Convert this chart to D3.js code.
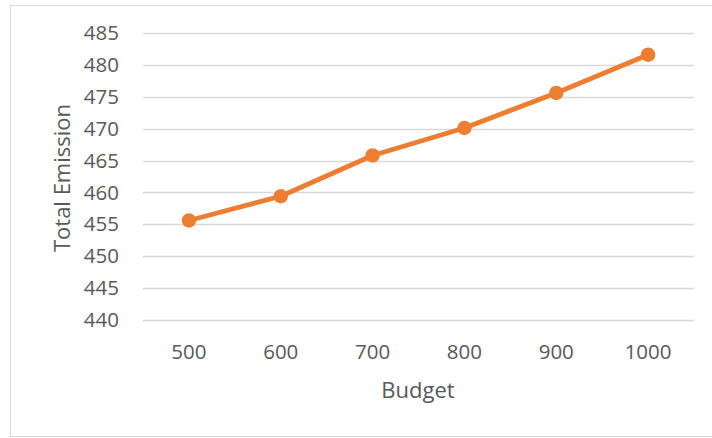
<!DOCTYPE html>
<html>
<head>
<meta charset="utf-8">
<script src="https://cdn.jsdelivr.net/npm/d3@7"></script>
<style>
  html, body { margin: 0; padding: 0; background: #fff; }
  svg { display: block; }
</style>
</head>
<body>
<svg id="chart" width="712" height="438"></svg>
<script>
// Budget levels and the resulting total emission
const budgets = ["500", "600", "700", "800", "900", "1000"];
const emissions = [455.6, 459.4, 465.8, 470.1, 475.6, 481.6];
const yTicks = [440, 445, 450, 455, 460, 465, 470, 475, 480, 485];
const xTitle = "Budget";
const yTitle = "Total Emission";

const svg = d3.select("#chart");
const textColor = "#595959";
const lineColor = "#ED7D31";
const font = "'Open Sans', sans-serif";

// chart frame
svg.append("rect")
  .attr("x", 10.5).attr("y", 5.5)
  .attr("width", 710).attr("height", 431)
  .attr("fill", "#fff").attr("stroke", "#d9d9d9").attr("stroke-width", 1);

const plot = { left: 143, right: 694, top: 33, bottom: 320 };

const x = d3.scaleBand().domain(budgets).range([plot.left, plot.right]);
const y = d3.scaleLinear().domain([440, 485]).range([plot.bottom, plot.top]);

// horizontal gridlines
svg.append("g")
  .selectAll("line")
  .data(yTicks)
  .join("line")
  .attr("x1", plot.left).attr("x2", plot.right)
  .attr("y1", d => Math.round(y(d)) + 0.5).attr("y2", d => Math.round(y(d)) + 0.5)
  .attr("stroke", "#d9d9d9").attr("stroke-width", 1.3);

// y axis labels
const yAxis = svg.append("g")
  .attr("transform", `translate(119,0)`)
  .call(d3.axisLeft(y).tickValues(yTicks).tickSize(0).tickPadding(0));
yAxis.select(".domain").remove();
yAxis.selectAll("text")
  .attr("fill", textColor).attr("font-family", font).attr("font-size", 20.5);

// x axis labels
const xAxis = svg.append("g")
  .attr("transform", `translate(0,344.5)`)
  .call(d3.axisBottom(x).tickSize(0).tickPadding(0));
xAxis.select(".domain").remove();
xAxis.selectAll("text")
  .attr("fill", textColor).attr("font-family", font).attr("font-size", 20.5);

// axis titles
svg.append("text")
  .attr("x", 418).attr("y", 398)
  .attr("text-anchor", "middle")
  .attr("fill", textColor).attr("font-family", font).attr("font-size", 22)
  .text(xTitle);

svg.append("text")
  .attr("transform", `translate(70,178) rotate(-90)`)
  .attr("text-anchor", "middle")
  .attr("fill", textColor).attr("font-family", font).attr("font-size", 22)
  .text(yTitle);

// emission line with markers
const pts = budgets.map((b, i) => [x(b) + x.bandwidth() / 2, y(emissions[i])]);

svg.append("path")
  .attr("d", d3.line()(pts))
  .attr("fill", "none").attr("stroke", lineColor)
  .attr("stroke-width", 4.8).attr("stroke-linejoin", "round").attr("stroke-linecap", "round");

svg.append("g")
  .selectAll("circle")
  .data(pts)
  .join("circle")
  .attr("cx", d => d[0]).attr("cy", d => d[1])
  .attr("r", 7.2).attr("fill", lineColor);
</script>
</body>
</html>
